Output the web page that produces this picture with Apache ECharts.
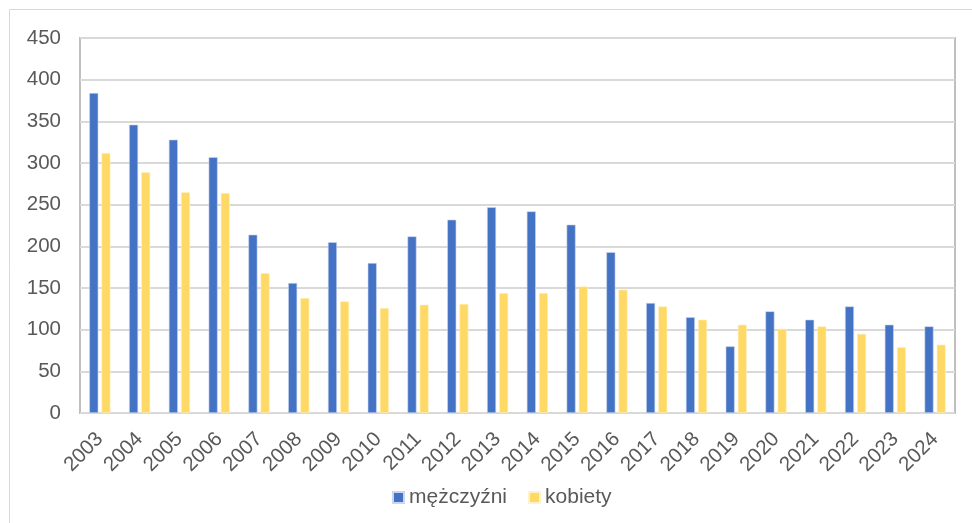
<!DOCTYPE html>
<html>
<head>
<meta charset="utf-8">
<script src="https://cdn.jsdelivr.net/npm/echarts@6/dist/echarts.min.js"></script>
<style>html,body{margin:0;padding:0;background:#fff;}#c{width:972px;height:523px;}</style>
</head>
<body>
<div id="c"></div>
<script>
const categories = ['2003','2004','2005','2006','2007','2008','2009','2010','2011','2012','2013','2014','2015','2016','2017','2018','2019','2020','2021','2022','2023','2024'];
const men = [384,346,328,307,214,156,205,180,212,232,247,242,226,193,132,115,80,122,112,128,106,104];
const women = [312,289,265,264,168,138,134,126,130,131,144,144,152,148,128,112,106,101,104,95,79,82];
const yTicks = [0,50,100,150,200,250,300,350,400,450];

const chart = echarts.init(document.getElementById('c'));
const font = 'Liberation Sans, Arial, sans-serif';
chart.setOption({
  animation: false,
  graphic: [{type:'rect', shape:{x:9.5,y:9.5,width:1000,height:600}, style:{fill:'none', stroke:'#d9d9d9', lineWidth:1}, z:-1}],
  grid: {left:80, right:17, top:38, bottom:110, show:true, borderColor:'#bfbfbf', borderWidth:2, backgroundColor:'transparent'},
  legend: {
    left: 387, top: 482, itemWidth: 11, itemHeight: 11, itemGap: 21,
    icon: 'rect',
    textStyle: {fontFamily: font, fontSize: 21, color:'#595959'},
    data: ['mężczyźni','kobiety']
  },
  xAxis: {
    type:'category', data: categories,
    axisLine:{show:false}, axisTick:{show:false},
    axisLabel:{rotate:45, fontFamily:font, fontSize:20.5, color:'#595959', margin:23, interval:0}
  },
  yAxis: {
    type:'value', min:yTicks[0], max:yTicks[yTicks.length-1], interval:50,
    axisLine:{show:false}, axisTick:{show:false},
    splitLine:{lineStyle:{color:'#d9d9d9', width:2}},
    axisLabel:{fontFamily:font, fontSize:20.5, color:'#595959', margin:19}
  },
  series: [
    {name:'mężczyźni', type:'bar', data: men, barWidth:9, barGap:'35%', itemStyle:{color:'#4472C4', borderColor:'#c9d6ee', borderWidth:0.6}},
    {name:'kobiety', type:'bar', data: women, barWidth:9, itemStyle:{color:'#FFD966', borderColor:'#fff2c8', borderWidth:0.6}}
  ]
});
</script>
</body>
</html>
